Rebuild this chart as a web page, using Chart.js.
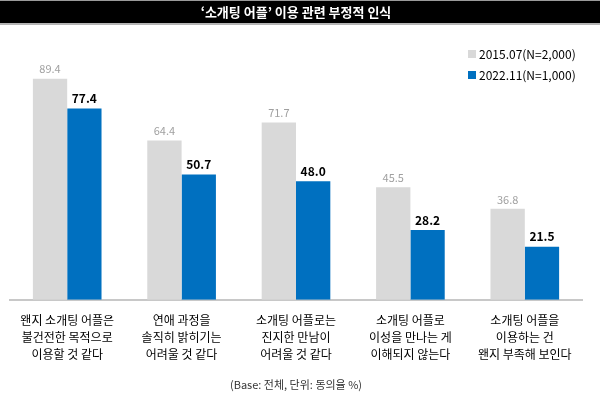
<!DOCTYPE html>
<html>
<head>
<meta charset="utf-8">
<script src="https://cdn.jsdelivr.net/npm/chart.js@4/dist/chart.umd.min.js"></script>
<style>
  body { margin: 0; background: #fff; }
  #wrap { width: 600px; height: 398px; }
</style>
</head>
<body>
<div id="wrap"><canvas id="surveyChart"></canvas></div>
<script>
// categories (multi-line x labels)
const categories = [
  ["왠지 소개팅 어플은", "불건전한 목적으로", "이용할 것 같다"],
  ["연애 과정을", "솔직히 밝히기는", "어려울 것 같다"],
  ["소개팅 어플로는", "진지한 만남이", "어려울 것 같다"],
  ["소개팅 어플로", "이성을 만나는 게", "이해되지 않는다"],
  ["소개팅 어플을", "이용하는 건", "왠지 부족해 보인다"],
];
const seriesNames = ["2015.07(N=2,000)", "2022.11(N=1,000)"];
const values2015 = [89.4, 64.4, 71.7, 45.5, 36.8];
const values2022 = [77.4, 50.7, 48.0, 28.2, 21.5];

const GREY = "#d9d9d9";
const BLUE = "#0070c0";
const FONT = "'Noto Sans CJK KR', 'Noto Sans', sans-serif";

Chart.defaults.font.family = FONT;
Chart.defaults.color = "#000";

// black title band behind the title text
const titleBand = {
  id: "titleBand",
  beforeDraw(chart) {
    const c = chart.ctx;
    c.save();
    c.fillStyle = "#9a9a9a";
    c.fillRect(0, 0, chart.width, 1);
    c.fillStyle = "#000";
    c.fillRect(0, 1, chart.width, 22);
    c.fillStyle = "#b4b4b4";
    c.fillRect(0, 23, chart.width, 2);
    c.restore();
  },
};

// value labels above each bar
const barValues = {
  id: "barValues",
  afterDatasetsDraw(chart) {
    const c = chart.ctx;
    c.save();
    c.textAlign = "center";
    c.textBaseline = "bottom";
    chart.data.datasets.forEach((ds, i) => {
      const meta = chart.getDatasetMeta(i);
      c.font = i === 0 ? "11px " + FONT : "bold 12px " + FONT;
      c.fillStyle = i === 0 ? "#a0a0a0" : "#000";
      meta.data.forEach((bar, j) => {
        c.fillText(ds.data[j].toFixed(1), bar.x, bar.y - 4);
      });
    });
    c.restore();
  },
};

// legend stacked in the top right corner, inside the plot
const cornerLegend = {
  id: "cornerLegend",
  afterDraw(chart) {
    const c = chart.ctx;
    c.save();
    c.font = "12px " + FONT;
    c.textBaseline = "middle";
    c.textAlign = "left";
    chart.data.datasets.forEach((ds, i) => {
      const y = 54 + i * 21;
      c.fillStyle = ds.backgroundColor;
      c.fillRect(468, y - 4, 8, 8);
      c.fillStyle = "#000";
      c.fillText(ds.label, 479, y);
    });
    c.restore();
  },
};

new Chart(document.getElementById("surveyChart"), {
  type: "bar",
  data: {
    labels: categories,
    datasets: [
      {
        label: seriesNames[0],
        data: values2015,
        backgroundColor: GREY,
        categoryPercentage: 0.6,
        barPercentage: 1.0,
      },
      {
        label: seriesNames[1],
        data: values2022,
        backgroundColor: BLUE,
        categoryPercentage: 0.6,
        barPercentage: 1.0,
      },
    ],
  },
  options: {
    responsive: true,
    maintainAspectRatio: false,
    animation: false,
    layout: {
      padding: { left: 10, right: 18, top: 0, bottom: 0 },
    },
    plugins: {
      legend: { display: false },
      tooltip: { enabled: false },
      title: {
        display: true,
        text: "‘소개팅 어플’ 이용 관련 부정적 인식",
        color: "#fff",
        font: { size: 13, weight: "bold", lineHeight: 1.2 },
        padding: { top: 4, bottom: 33 },
      },
      subtitle: {
        display: true,
        position: "bottom",
        text: "(Base: 전체, 단위: 동의율 %)",
        color: "#333",
        font: { size: 11, lineHeight: 1.2 },
        padding: { top: 13, bottom: 7 },
      },
    },
    scales: {
      x: {
        grid: { display: false, drawTicks: false },
        border: { display: true, color: "#c8c8c8", width: 2 },
        ticks: {
          color: "#000",
          padding: 12,
          font: { size: 12, lineHeight: "17px" },
          maxRotation: 0,
          autoSkip: false,
        },
        afterFit(scale) {
          scale.height = 65;
        },
      },
      y: {
        display: false,
        min: 0,
        max: 100,
      },
    },
  },
  plugins: [titleBand, barValues, cornerLegend],
});
</script>
</body>
</html>
